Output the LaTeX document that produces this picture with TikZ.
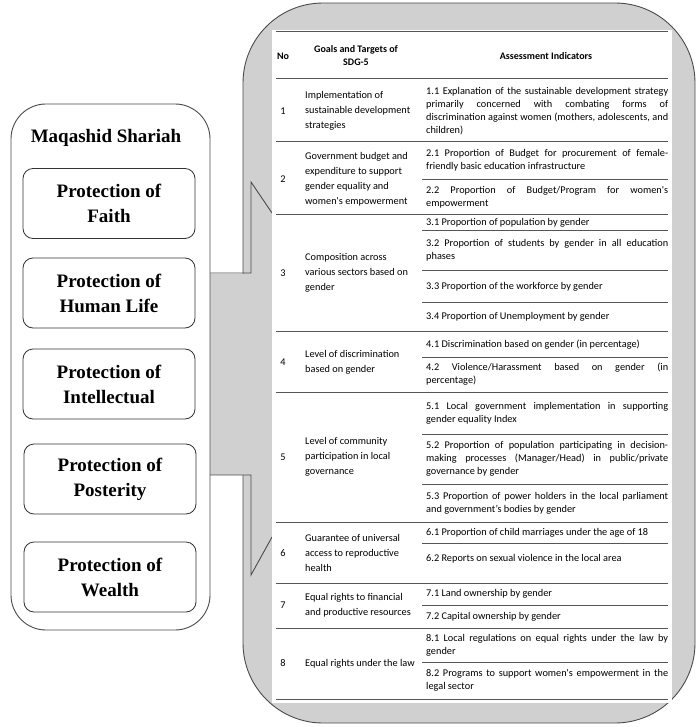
\documentclass[tikz,border=0pt]{standalone}
\usepackage{fontspec}
\newfontfamily\tabf{Carlito}
\newfontfamily\serf{Liberation Serif}
\definecolor{calloutgray}{RGB}{209,208,209}
\definecolor{edgegray}{RGB}{75,75,75}
\definecolor{rulegray}{RGB}{85,85,85}
\newcommand\J[1]{\makebox[242pt][s]{#1}}
\begin{document}
\begin{tikzpicture}[x=1pt,y=-1pt,
  tabtxt/.style={inner sep=0pt, font=\tabf\fontsize{10.3pt}{13.2pt}\selectfont},
  ind/.style={tabtxt, anchor=west, align=left},
  goal/.style={inner sep=0pt, anchor=west, align=left, font=\tabf\fontsize{10.3pt}{15pt}\selectfont},
  num/.style={tabtxt},
  hdr/.style={inner sep=0pt, align=center, font=\tabf\bfseries\fontsize{10pt}{13pt}\selectfont},
  fullrule/.style={draw=rulegray, line width=1pt},
  subrule/.style={draw=rulegray, line width=0.8pt},
  pbox/.style={draw=black!80, line width=0.8pt, rounded corners=10pt, fill=white,
    minimum width=172pt, minimum height=70pt, align=center, inner sep=0pt,
    font=\serf\bfseries\fontsize{19pt}{25pt}\selectfont},
  outerbox/.style={draw=edgegray, line width=0.9pt, rounded corners=35pt, fill=white,
    minimum width=199pt, minimum height=526pt, inner sep=0pt},
  callout/.style={draw=edgegray, line width=0.9pt, fill=calloutgray, rounded corners=80pt},
  pointer/.style={draw=edgegray, line width=0.9pt}
]
\useasboundingbox (0,0) rectangle (697,727);

% callout shape
\path[callout] (243,3) rectangle (695,723);
\fill[calloutgray] (209,273.5) rectangle (246,474.5);
\draw[pointer] (210,273) -- (251,273) -- (251,182) -- (272,213);
\draw[pointer] (210,475) -- (251,475) -- (251,575) -- (272,537);

% left column
\node[outerbox] (ms) at (110.5,367) {};
\node[font=\serf\bfseries\fontsize{19pt}{23pt}\selectfont, inner sep=0pt] (title) at (106,138) {Maqashid Shariah};
\node[pbox] (faith) at (109,203.5) {Protection of\\Faith};
\node[pbox] (life) at (109,293) {Protection of\\Human Life};
\node[pbox] (intel) at (109,384) {Protection of\\Intellectual};
\node[pbox] (post) at (110,479) {Protection of\\Posterity};
\node[pbox] (wealth) at (110,577) {Protection of\\Wealth};

% table background
\fill[white] (272,30) rectangle (672,703);

% rules
\foreach \y in {32,79,142,215,331,392,522,583,628,699}
  \draw[fullrule] (276,\y) -- (668,\y);
\foreach \y in {179,230,270,302,357,434,484,543,605,662}
  \draw[subrule] (422,\y) -- (668,\y);

% header
\node[hdr] (hno) at (283,56) {No};
\node[hdr] (hgoal) at (356,56) {Goals and Targets of\\SDG-5};
\node[hdr] (hind) at (546,56) {Assessment Indicators};

% numbers
\node[num] (n1) at (283,111) {1};
\node[num] (n2) at (283,179) {2};
\node[num] (n3) at (283,273) {3};
\node[num] (n4) at (283,362.5) {4};
\node[num] (n5) at (283,457) {5};
\node[num] (n6) at (283,553) {6};
\node[num] (n7) at (283,605.5) {7};
\node[num] (n8) at (283,663.5) {8};

% goals
\node[goal] (g1) at (305,111) {Implementation of\\sustainable development\\strategies};
\node[goal] (g2) at (305,179) {Government budget and\\expenditure to support\\gender equality and\\women's empowerment};
\node[goal] (g3) at (305,273) {Composition across\\various sectors based on\\gender};
\node[goal] (g4) at (305,362.5) {Level of discrimination\\based on gender};
\node[goal] (g5) at (305,457) {Level of community\\participation in local\\governance};
\node[goal] (g6) at (305,553) {Guarantee of universal\\access to reproductive\\health};
\node[goal] (g7) at (305,605.5) {Equal rights to financial\\and productive resources};
\node[goal] (g8) at (305,663.5) {Equal rights under the law};

% indicators
\node[ind] (i11) at (426,111) {\J{1.1 Explanation of the sustainable development strategy}\\\J{primarily concerned with combating forms of}\\\J{discrimination against women (mothers, adolescents, and}\\children)};
\node[ind] (i21) at (426,160.5) {\J{2.1 Proportion of Budget for procurement of female-}\\friendly basic education infrastructure};
\node[ind] (i22) at (426,197) {\J{2.2 Proportion of Budget/Program for women's}\\empowerment};
\node[ind] (i31) at (426,222.5) {3.1 Proportion of population by gender};
\node[ind] (i32) at (426,250) {\J{3.2 Proportion of students by gender in all education}\\phases};
\node[ind] (i33) at (426,286.5) {3.3 Proportion of the workforce by gender};
\node[ind] (i34) at (426,317) {3.4 Proportion of Unemployment by gender};
\node[ind] (i41) at (426,344.5) {4.1 Discrimination based on gender (in percentage)};
\node[ind] (i42) at (426,374.5) {\J{4.2 Violence/Harassment based on gender (in}\\percentage)};
\node[ind] (i51) at (426,413) {\J{5.1 Local government implementation in supporting}\\gender equality Index};
\node[ind] (i52) at (426,459) {\J{5.2 Proportion of population participating in decision-}\\\J{making processes (Manager/Head) in public/private}\\governance by gender};
\node[ind] (i53) at (426,503) {\J{5.3 Proportion of power holders in the local parliament}\\and government’s bodies by gender};
\node[ind] (i61) at (426,532.5) {6.1 Proportion of child marriages under the age of 18};
\node[ind] (i62) at (426,559) {6.2 Reports on sexual violence in the local area};
\node[ind] (i71) at (426,594) {7.1 Land ownership by gender};
\node[ind] (i72) at (426,616.5) {7.2 Capital ownership by gender};
\node[ind] (i81) at (426,645) {\J{8.1 Local regulations on equal rights under the law by}\\gender};
\node[ind] (i82) at (426,680.5) {\J{8.2 Programs to support women's empowerment in the}\\legal sector};
\end{tikzpicture}
\end{document}
